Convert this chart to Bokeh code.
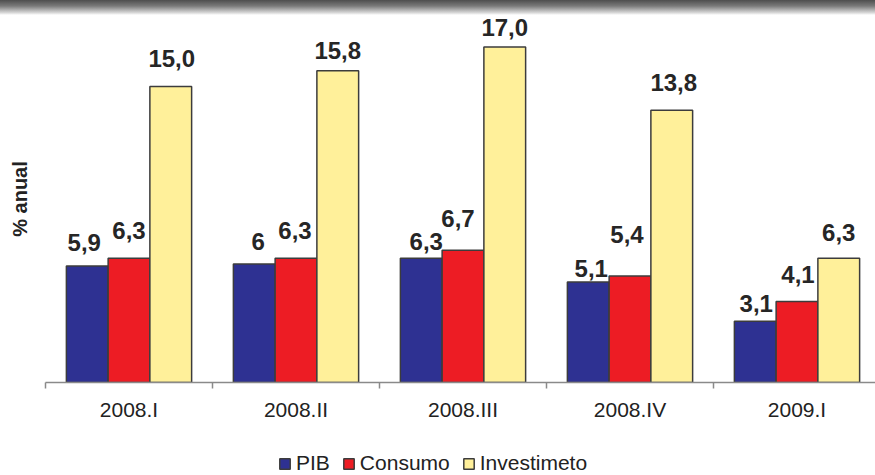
from bokeh.plotting import figure
from bokeh.models import (Range1d, FixedTicker, LinearAxis, Legend, LegendItem, Div)
from bokeh.layouts import column
from bokeh.core.properties import value
from bokeh.embed import file_html
from bokeh.resources import INLINE

# ---- data ----
categories = ["2008.I", "2008.II", "2008.III", "2008.IV", "2009.I"]
pib = [5.9, 6.0, 6.3, 5.1, 3.1]
consumo = [6.3, 6.3, 6.7, 5.4, 4.1]
investimento = [15.0, 15.8, 17.0, 13.8, 6.3]
pib_labels = ["5,9", "6", "6,3", "5,1", "3,1"]
consumo_labels = ["6,3", "6,3", "6,7", "5,4", "4,1"]
investimento_labels = ["15,0", "15,8", "17,0", "13,8", "6,3"]
series_names = ["PIB", "Consumo", "Investimeto"]

# ---- style (label placement in px, colours) ----
pib_dy = [24, 23, 17, 13, 18]
consumo_dy = [28, 28, 32, 41, 27]
inv_dy = [28, 20, 20, 28, 26]
pib_dx = [-3, 4, 5, 3, 1]
consumo_dx = [0, -1, -5, -3, 1]
inv_dx = [1, 0, 0, 2, 0]
colors = ["#2E3192", "#ED1C24", "#FFF09A"]
BAR_W = 0.25
PX_PER_UNIT_Y = 19.73
FRAME_H = 367
FRAME_W = 830
PX_PER_CAT = 167.0

FONT = "Liberation Sans"

p = figure(width=875, height=425,
           x_range=Range1d(-0.5, -0.5 + FRAME_W / PX_PER_CAT),
           y_range=Range1d(0, FRAME_H / PX_PER_UNIT_Y),
           output_backend="svg", toolbar_location=None,
           min_border_left=45, min_border_right=0, min_border_top=0,
           min_border_bottom=425 - FRAME_H, x_axis_location=None, y_axis_location=None)
p.outline_line_color = None
p.background_fill_color = "white"
p.border_fill_color = "white"
p.xgrid.visible = False
p.ygrid.visible = False

n = len(categories)
offsets = [-BAR_W, 0.0, BAR_W]
all_vals = [pib, consumo, investimento]
all_labels = [pib_labels, consumo_labels, investimento_labels]
all_dy = [pib_dy, consumo_dy, inv_dy]
all_dx = [pib_dx, consumo_dx, inv_dx]

for k in range(3):
    xs = [i + offsets[k] for i in range(n)]
    p.vbar(x=xs, top=all_vals[k], bottom=0, width=BAR_W,
           fill_color=colors[k], line_color="#3c3c3c", line_width=1.5)
    p.text(x=xs, y=all_vals[k], text=all_labels[k],
           x_offset=all_dx[k], y_offset=[-d for d in all_dy[k]],
           text_align="center", text_baseline="middle",
           text_font=value(FONT), text_font_style="bold",
           text_font_size="24px", text_color="#262626")

# y axis: only the title
yaxis = LinearAxis(axis_label="% anual", axis_line_color=None,
                   major_tick_line_color=None, minor_tick_line_color=None,
                   axis_label_text_font=FONT, axis_label_text_font_style="bold",
                   axis_label_text_font_size="20px",
                   axis_label_text_color="#222222", axis_label_standoff=15,
                   ticker=FixedTicker(ticks=[]))
p.add_layout(yaxis, "left")

# x axis 1: line + ticks at category boundaries
bounds = [i - 0.5 for i in range(n + 1)]
xaxis1 = LinearAxis(ticker=FixedTicker(ticks=bounds),
                    major_label_overrides={b: "" for b in bounds},
                    axis_line_color="#8a8a8a", axis_line_width=1.5,
                    major_tick_line_color="#8a8a8a", major_tick_line_width=1.5,
                    major_tick_in=0, major_tick_out=6,
                    minor_tick_line_color=None, major_label_standoff=0)
p.add_layout(xaxis1, "below")

# x axis 2: category labels at centres
xaxis2 = LinearAxis(ticker=FixedTicker(ticks=list(range(n))),
                    major_label_overrides={i: c for i, c in enumerate(categories)},
                    axis_line_color=None, major_tick_line_color=None,
                    minor_tick_line_color=None,
                    major_label_text_font=FONT, major_label_text_font_size="21px",
                    major_label_text_color="#222222", major_label_standoff=3)
p.add_layout(xaxis2, "below")

# ---- legend strip ----
LEG_H = 35
lf = figure(width=875, height=LEG_H, x_range=Range1d(0, 1), y_range=Range1d(0, 1),
            output_backend="svg", toolbar_location=None,
            min_border_left=0, min_border_right=0, min_border_top=0,
            min_border_bottom=0, x_axis_location=None, y_axis_location=None)
lf.outline_line_color = None
lf.xgrid.visible = False
lf.ygrid.visible = False
lf.border_fill_color = "white"
# legend proxies: degenerate (zero-size) bars that only provide the swatch style
leg_renderers = [lf.vbar(x=[0.5], top=[0.5], bottom=[0.5], width=0, fill_color=colors[k],
                         line_color="#3c3c3c", line_width=1.5) for k in range(3)]
legend = Legend(items=[LegendItem(label=series_names[k], renderers=[leg_renderers[k]])
                       for k in range(3)],
                orientation="horizontal", location=(233, 0),
                glyph_width=13, glyph_height=13, label_standoff=5, spacing=12,
                label_text_font=FONT, label_text_font_size="21px",
                label_text_color="#222222", border_line_color=None,
                background_fill_alpha=0, padding=0, margin=0)
lf.add_layout(legend, "center")

band = Div(text="", width=875, height=15, margin=0,
           styles={"background": "linear-gradient(to bottom, #4e4e4e 0%, #7a7a7a 40%, #d8d8d8 85%, #ffffff 100%)"})

layout = column(band, p, lf, spacing=0)
open("out.html", "w").write(file_html(layout, INLINE))
